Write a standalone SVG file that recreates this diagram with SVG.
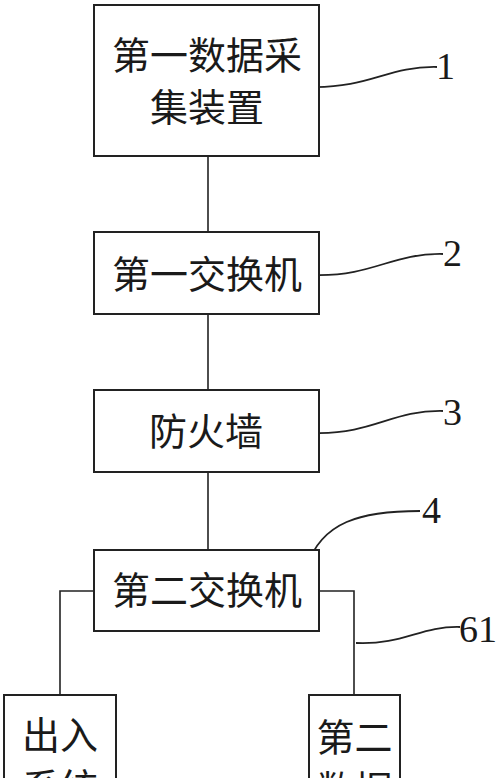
<svg xmlns="http://www.w3.org/2000/svg" width="500" height="778" viewBox="0 0 500 778">
<style>
.box{fill:#fff;stroke:#222;stroke-width:2}
.t{font-family:"Noto Sans CJK SC","Noto Sans",sans-serif;font-size:38px;fill:#1a1a1a;text-anchor:middle}
.n{font-family:"Liberation Serif",serif;font-size:38px;fill:#1a1a1a}
.c{fill:none;stroke:#222;stroke-width:1.6}
.l{fill:none;stroke:#222;stroke-width:1.8}
</style>
<rect width="500" height="778" fill="#fff"/>
<g id="connectors">
<path class="c" d="M208,156 V232 M208,314 V390 M208,472 V550"/>
<path class="c" d="M94,591 H60 V695 M319,591 H354 V695"/>
</g>
<g id="leaders">
<path class="l" d="M312,87 C370,88 388,66 437,67"/>
<path class="l" d="M316,275 C374,276 392,253 443,254"/>
<path class="l" d="M316,433 C374,434 392,410 443,411"/>
<path class="l" d="M307,566 C322,522 360,511 420,511"/>
<path class="l" d="M356,643 C404,645 420,626 460,627"/>
</g>
<g id="node1">
<rect class="box" x="94" y="5" width="225" height="151"/>
<text class="t" x="207" y="69">第一数据采</text>
<text class="t" x="207" y="121">集装置</text>
<text class="n" x="436" y="79">1</text>
</g>
<g id="node2">
<rect class="box" x="94" y="232" width="225" height="82"/>
<text class="t" x="207" y="288">第一交换机</text>
<text class="n" x="443" y="266">2</text>
</g>
<g id="node3">
<rect class="box" x="94" y="390" width="225" height="82"/>
<text class="t" x="206" y="445">防火墙</text>
<text class="n" x="443" y="425">3</text>
</g>
<g id="node4">
<rect class="box" x="94" y="550" width="225" height="81"/>
<text class="t" x="207" y="604">第二交换机</text>
<text class="n" x="422" y="523">4</text>
</g>
<g id="node5">
<rect class="box" x="4" y="695" width="112" height="120"/>
<text class="t" x="60" y="749">出入</text>
<text class="t" x="60" y="801">系统</text>
</g>
<g id="node6">
<rect class="box" x="309" y="695" width="91" height="120"/>
<text class="t" x="354.5" y="751">第二</text>
<text class="t" x="354.5" y="803">数据</text>
<text class="n" x="459" y="642">61</text>
</g>
</svg>
